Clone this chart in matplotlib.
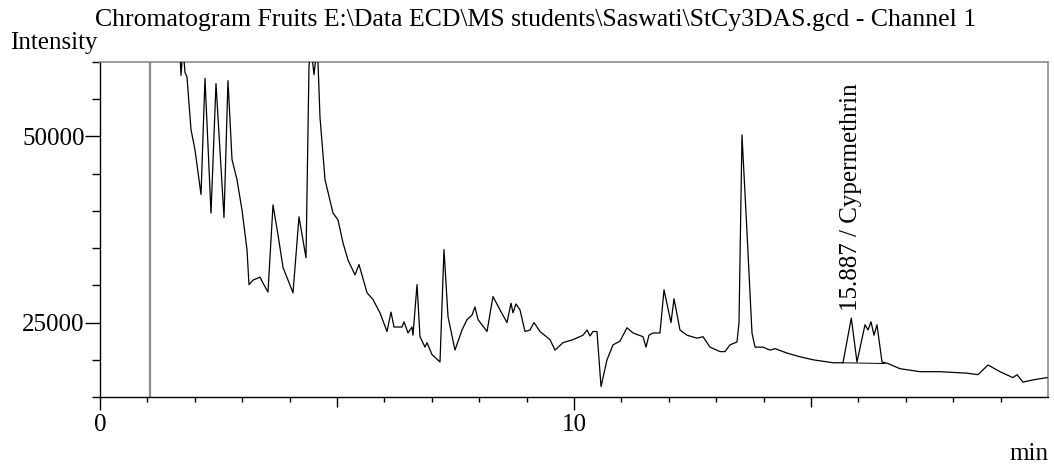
import matplotlib.pyplot as plt
from matplotlib.ticker import FixedLocator, NullFormatter

# Chromatogram trace (time in min, intensity)
time_min = [1.646, 1.688, 1.709, 1.751, 1.793, 1.835, 1.920, 2.004, 2.131, 2.215,
            2.342, 2.447, 2.616, 2.700, 2.785, 2.890, 2.996, 3.101, 3.143, 3.228,
            3.376, 3.439, 3.544, 3.650, 3.755, 3.861, 4.072, 4.198, 4.346, 4.409,
            4.451, 4.515, 4.578, 4.599, 4.641, 4.747, 4.916, 5.021, 5.127, 5.232,
            5.380, 5.464, 5.633, 5.759, 5.907, 6.055, 6.139, 6.203, 6.371, 6.414,
            6.498, 6.582, 6.603, 6.688, 6.751, 6.857, 6.899, 7.004, 7.173, 7.257,
            7.342, 7.489, 7.637, 7.743, 7.848, 7.911, 7.975, 8.165, 8.291, 8.439,
            8.586, 8.671, 8.713, 8.776, 8.861, 8.966, 9.072, 9.156, 9.283, 9.494,
            9.599, 9.768, 9.979, 10.190, 10.274, 10.338, 10.401, 10.485, 10.570, 10.696,
            10.823, 10.970, 11.118, 11.245, 11.456, 11.519, 11.582, 11.667, 11.814, 11.899,
            12.046, 12.110, 12.236, 12.384, 12.595, 12.722, 12.869, 13.080, 13.186, 13.291,
            13.439, 13.481, 13.544, 13.650, 13.755, 13.819, 13.987, 14.135, 14.241, 14.494,
            14.768, 15.042, 15.464, 15.675, 15.850, 15.970, 16.139, 16.203, 16.266, 16.329,
            16.392, 16.498, 16.624, 16.878, 17.300, 17.722, 18.291, 18.523, 18.734, 18.987,
            19.262, 19.346, 19.473, 19.684, 19.979]
intensity = [64000, 61000, 58200, 62000, 58600, 58000, 50900, 48200, 42200, 57800,
             39700, 57100, 39100, 57500, 46900, 44200, 40100, 34800, 30100, 30700,
             31100, 30300, 29100, 40800, 36800, 32400, 29000, 39200, 33700, 59400,
             62000, 58300, 62000, 60000, 52600, 44200, 39700, 38800, 35700, 33400,
             31400, 32800, 29000, 28100, 26300, 23800, 26400, 24400, 24400, 25100,
             23600, 24400, 23300, 30100, 23100, 21700, 22300, 20700, 19700, 34800,
             25800, 21300, 24000, 25400, 26000, 27100, 25400, 23800, 28500, 26700,
             25000, 27600, 26300, 27500, 26700, 23800, 24000, 25000, 23800, 22700,
             21300, 22300, 22700, 23300, 24000, 23200, 23800, 23800, 16400, 20000,
             22000, 22500, 24300, 23600, 23100, 21700, 23300, 23600, 23600, 29400,
             25000, 28200, 24000, 23300, 22900, 23100, 21700, 21100, 21100, 22000,
             22400, 25000, 50200, 37100, 23600, 21700, 21700, 21300, 21500, 20900,
             20400, 20000, 19600, 19600, 25600, 19700, 24700, 24000, 25100, 23300,
             24700, 19700, 19500, 18800, 18400, 18400, 18200, 18000, 19300, 18400,
             17600, 18000, 17000, 17300, 17600]

# integration baseline under the Cypermethrin peak group
baseline_time = [15.66, 16.55]
baseline_int = [19600, 19500]

injection_time = 1.05
peak_time = 15.85
peak_label = "15.887 / Cypermethrin"

title = r"Chromatogram Fruits E:\Data ECD\MS students\Saswati\StCy3DAS.gcd - Channel 1"

plt.rcParams['font.family'] = ['Liberation Serif', 'DejaVu Serif']

fig = plt.figure(figsize=(10.54, 4.65), dpi=100)
ax = fig.add_axes([100 / 1054, 1 - 397 / 465, 948 / 1054, 335 / 465])

ax.axvline(injection_time, color='#8c8c8c', linewidth=1.6, zorder=1)
ax.plot(time_min, intensity, color='black', linewidth=0.9, zorder=3)
ax.plot(baseline_time, baseline_int, color='black', linewidth=0.7, zorder=3)

ax.set_xlim(0, 20.0)
ax.set_ylim(15000, 60000)

# y ticks every 5000, labels (and longer ticks) only at 25000 and 50000
ax.set_yticks([25000, 50000])
ax.set_yticklabels(['25000', '50000'])
ax.yaxis.set_minor_locator(FixedLocator([v for v in range(15000, 60001, 5000)
                                         if v not in (25000, 50000)]))
ax.tick_params(axis='y', which='major', direction='out', length=11, width=1, pad=0, labelsize=18)
ax.tick_params(axis='y', which='minor', direction='out', length=6, width=1)

# x ticks: long at 0/10, medium at 5/15, short every minute
ax.set_xticks([0, 10])
ax.set_xticklabels(['0', '10'])
ax.xaxis.set_minor_locator(FixedLocator([m for m in range(1, 20) if m % 5 != 0]))
ax.tick_params(axis='x', which='major', direction='out', length=9.5, width=1, pad=3, labelsize=18)
ax.tick_params(axis='x', which='minor', direction='out', length=3.8, width=1)

sec = ax.secondary_xaxis('bottom')
sec.set_xticks([5, 15])
sec.xaxis.set_major_formatter(NullFormatter())
sec.tick_params(axis='x', direction='out', length=7.2, width=1)
sec.spines['bottom'].set_visible(False)

for side in ('top', 'right'):
    ax.spines[side].set_color('#8c8c8c')
    ax.spines[side].set_linewidth(1.2)
for side in ('left', 'bottom'):
    ax.spines[side].set_color('black')
    ax.spines[side].set_linewidth(1.0)

ax.text(peak_time, 25600 + 900, peak_label, rotation=90, ha='center', va='bottom',
        fontsize=18, color='black')

fig.text(95 / 1054, 1 - 26 / 465, title, fontsize=18.5, ha='left', va='baseline')
fig.text(10 / 1054, 1 - 49 / 465, "Intensity", fontsize=18, ha='left', va='baseline')
fig.text(1048 / 1054, 1 - 460 / 465, "min", fontsize=18, ha='right', va='baseline')

fig.savefig('out.png', dpi=100)
